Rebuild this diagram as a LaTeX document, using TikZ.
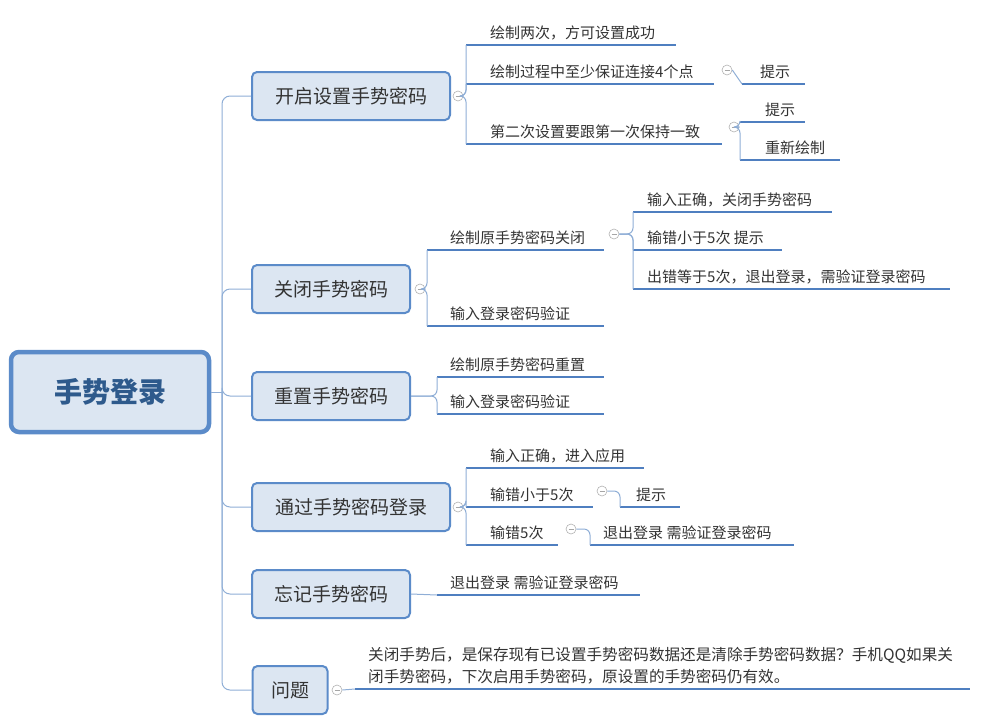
\documentclass[tikz,border=0pt]{standalone}
\usepackage{fontspec}
\setmainfont{Noto Sans CJK SC}
\usetikzlibrary{positioning}
\usetikzlibrary{calc}

\definecolor{boxfill}{HTML}{DCE6F2}
\definecolor{boxline}{HTML}{5B8BC9}
\definecolor{conncol}{HTML}{8FAED6}
\definecolor{ulcol}{HTML}{4F7FC0}
\definecolor{roottext}{HTML}{2E5A8C}
\definecolor{txt}{HTML}{333333}

\tikzset{
  topic/.style={draw=boxline, line width=2pt, fill=boxfill, rounded corners=5pt,
                minimum height=48pt, text=txt, font=\fontsize{19}{21}\selectfont, inner xsep=8pt},
  root/.style={topic, line width=4.5pt, rounded corners=8pt, minimum width=198pt,
               minimum height=80pt, text=roottext, font=\fontsize{28}{30}\selectfont\bfseries},
  leaf/.style={anchor=south west, inner sep=0pt, text=txt, font=\fontsize{15}{17}\selectfont},
  conn/.style={draw=conncol, line width=1pt, rounded corners=6pt},
  uline/.style={draw=ulcol, line width=2.6pt},
  fold/.style={circle, draw=gray!60, line width=0.6pt, fill=white, minimum size=10pt, inner sep=0pt,
               path picture={\draw[gray!70, line width=0.6pt] ([xshift=-2.5pt]path picture bounding box.center) -- ([xshift=2.5pt]path picture bounding box.center);}},
}

% \leaf{name}{x start}{x end}{y of line}{x of text}{text}
\newcommand{\leaf}[6]{%
  \coordinate (#1-s) at (#2,#4);
  \coordinate (#1-e) at (#3,#4);
  \node[leaf] (#1) at (#5,#4-5) {#6};
  \draw[uline] (#1-s) -- (#1-e);
}

\begin{document}
\begin{tikzpicture}[x=1pt, y=-1pt]
  \useasboundingbox (0,0) rectangle (982,726);

  % topics
  \node[root] (login) at (110,392) {手势登录};
  \node[topic, minimum width=198pt] (open)   at (351,96)  {开启设置手势密码};
  \node[topic, minimum width=158pt] (close)  at (331,289) {关闭手势密码};
  \node[topic, minimum width=158pt] (reset)  at (331,396) {重置手势密码};
  \node[topic, minimum width=198pt] (pass)   at (351,507) {通过手势密码登录};
  \node[topic, minimum width=158pt] (forget) at (331,594) {忘记手势密码};
  \node[topic, minimum width=75pt]  (quest)  at (290,690) {问题};

  \coordinate (trunk) at (222,392);
  \draw[conn] (login.east) -- (trunk);
  \foreach \t in {open,close,reset,pass,forget,quest}
    \draw[conn, rounded corners=8pt] (trunk) |- (\t.west);

  % open
  \leaf{o1}{466}{676}{45}{490}{绘制两次，方可设置成功}
  \leaf{o2}{466}{714}{84}{490}{绘制过程中至少保证连接4个点}
  \leaf{o3}{466}{722}{144}{490}{第二次设置要跟第一次保持一致}
  \node[fold] (fo) at (458,96) {};
  \node[fold] (fo2) at (727,70) {};
  \node[fold] (fo3) at (734,127) {};
  \leaf{o21}{742}{805}{84}{760}{提示}
  \leaf{o31}{740}{805}{122}{765}{提示}
  \leaf{o32}{740}{840}{160}{765}{重新绘制}
  \foreach \l in {o1,o2,o3} \draw[conn] (fo.east) -| (\l-s);
  \draw[conn] (fo2.east) -- (o21-s);
  \foreach \l in {o31,o32} \draw[conn] (fo3.east) -| (\l-s);

  % close
  \node[fold] (fc) at (420,289) {};
  \leaf{c1}{427}{604}{250}{450}{绘制原手势密码关闭}
  \leaf{c2}{427}{604}{326}{450}{输入登录密码验证}
  \foreach \l in {c1,c2} \draw[conn] (fc.east) -| (\l-s);
  \node[fold] (fc1) at (614,234) {};
  \leaf{c11}{633}{832}{212}{647}{输入正确，关闭手势密码}
  \leaf{c12}{633}{782}{250}{647}{输错小于5次 提示}
  \leaf{c13}{633}{950}{289}{647}{出错等于5次，退出登录，需验证登录密码}
  \foreach \l in {c11,c12,c13} \draw[conn] (fc1.east) -| (\l-s);

  % reset
  \leaf{r1}{437}{604}{377}{450}{绘制原手势密码重置}
  \leaf{r2}{437}{604}{414}{450}{输入登录密码验证}
  \foreach \l in {r1,r2} \draw[conn] (reset.east) -| (\l-s);

  % pass
  \node[fold] (fp) at (458,507) {};
  \leaf{p1}{466}{644}{468}{490}{输入正确，进入应用}
  \leaf{p2}{466}{593}{507}{490}{输错小于5次}
  \leaf{p3}{466}{558}{545}{490}{输错5次}
  \foreach \l in {p1,p2,p3} \draw[conn] (fp.east) -| (\l-s);
  \node[fold] (fp2) at (602,491) {};
  \node[fold] (fp3) at (571,529) {};
  \leaf{p21}{620}{680}{507}{636}{提示}
  \leaf{p31}{590}{794}{545}{603}{退出登录 需验证登录密码}
  \draw[conn] (fp2.east) -| (p21-s);
  \draw[conn] (fp3.east) -| (p31-s);

  % forget
  \leaf{f1}{437}{640}{595}{450}{退出登录 需验证登录密码}
  \draw[conn, rounded corners=0pt] (forget.east) -- (f1-s);

  % question
  \node[fold] (fq) at (337,690) {};
  \coordinate (q1-s) at (355,689);
  \coordinate (q1-e) at (970,689);
  \node[leaf, align=left, font=\fontsize{15.6}{22}\selectfont] (q1) at (368,684)
    {关闭手势后，是保存现有已设置手势密码数据还是清除手势密码数据？手机QQ如果关\\闭手势密码，下次启用手势密码，原设置的手势密码仍有效。};
  \draw[uline] (q1-s) -- (q1-e);
  \draw[conn] (fq.east) -- (q1-s);
\end{tikzpicture}
\end{document}
